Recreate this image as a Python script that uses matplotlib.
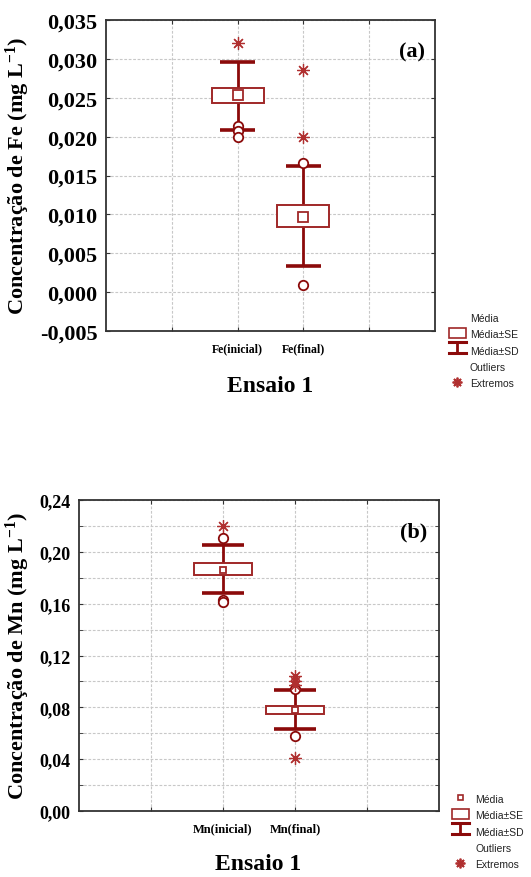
import matplotlib
matplotlib.use("Agg")
import matplotlib.pyplot as plt
from matplotlib.patches import Rectangle
from matplotlib.lines import Line2D
from matplotlib.ticker import MultipleLocator, FuncFormatter

plt.rcParams['mathtext.fontset'] = 'custom'
plt.rcParams['mathtext.rm'] = 'Liberation Serif:bold'
plt.rcParams['mathtext.bf'] = 'Liberation Serif:bold'
plt.rcParams['mathtext.it'] = 'Liberation Serif:bold'

# ---------------- data ----------------
fe_categories = ["Fe(inicial)", "Fe(final)"]
fe_mean = [0.0253, 0.0097]
fe_se_low = [0.0243, 0.0084]
fe_se_high = [0.0262, 0.0112]
fe_sd_low = [0.0208, 0.0033]
fe_sd_high = [0.0296, 0.0162]
fe_outliers = [[0.0214, 0.0207, 0.0199], [0.0166, 0.0009]]
fe_extremes = [[0.0320], [0.0286, 0.0199]]
fe_yticks = [-0.005, 0.000, 0.005, 0.010, 0.015, 0.020, 0.025, 0.030, 0.035]

mn_categories = ["Mn(inicial)", "Mn(final)"]
mn_mean = [0.186, 0.078]
mn_se_low = [0.182, 0.075]
mn_se_high = [0.191, 0.081]
mn_sd_low = [0.168, 0.063]
mn_sd_high = [0.205, 0.093]
mn_outliers = [[0.211, 0.163, 0.161], [0.094, 0.058]]
mn_extremes = [[0.220], [0.104, 0.100, 0.097, 0.041]]
mn_yticks = [0.00, 0.04, 0.08, 0.12, 0.16, 0.20, 0.24]

legend_labels = ["Média", "Média±SE", "Média±SD", "Outliers", "Extremos"]
xlabel_text = "Ensaio 1"

# ---------------- style ----------------
W, H = 531, 878
DPI = 100
C_WHISK = "#8b0a0a"
C_BOX = "#a02828"
C_EXT = "#b03030"
GRID_C = "#c8c8c8"
SERIF = "Liberation Serif"
SANS = "Liberation Sans"

fig = plt.figure(figsize=(W / DPI, H / DPI), dpi=DPI)
fig.patch.set_facecolor("white")


def px_axes(l, t, r, b):
    return fig.add_axes([l / W, (H - b) / H, (r - l) / W, (b - t) / H])


def comma_fmt(nd):
    def f(v, pos):
        s = f"{v:.{nd}f}".replace(".", ",")
        if s.startswith("-") and abs(v) < 1e-12:
            s = s[1:]
        return s
    return FuncFormatter(f)


def draw_panel(ax, cats, mean, sel, seh, sdl, sdh, outl, extr, ylim, major, minor,
               nd, tick_fs, cat_fs, box_w, cap_w, mean_ms, ylab, tag, lab_fs):
    xs = [2, 3]
    ax.set_xlim(0, 5)
    ax.set_ylim(*ylim)
    ax.set_xticks([1, 2, 3, 4])
    ax.set_xticklabels(["", cats[0], cats[1], ""], fontfamily=SERIF,
                       fontweight="bold", fontsize=cat_fs)
    ax.yaxis.set_major_locator(MultipleLocator(major))
    if minor:
        ax.yaxis.set_minor_locator(MultipleLocator(minor))
    ax.yaxis.set_major_formatter(comma_fmt(nd))
    for lab in ax.get_yticklabels():
        lab.set_fontfamily(SERIF)
        lab.set_fontweight("bold")
        lab.set_fontsize(tick_fs)
    ax.grid(True, which="both", color=GRID_C, linestyle=(0, (2.5, 1.5)), linewidth=0.8)
    ax.set_axisbelow(True)
    ax.tick_params(which="both", direction="in", length=3, top=True, right=True,
                   color="#333333", pad=6)
    ax.tick_params(axis="x", pad=8)
    for s in ax.spines.values():
        s.set_color("#333333")
        s.set_linewidth(1.3)

    # whiskers (SD)
    ax.vlines(xs, sdl, sdh, color=C_WHISK, lw=2.0, zorder=3)
    for x, lo, hi in zip(xs, sdl, sdh):
        ax.hlines([lo, hi], x - cap_w / 2, x + cap_w / 2, color=C_WHISK, lw=2.6, zorder=3)
    # SE boxes
    ax.bar(xs, [h - l for h, l in zip(seh, sel)], bottom=sel, width=box_w,
           facecolor="white", edgecolor=C_BOX, linewidth=1.4, zorder=4)
    # mean
    ax.plot(xs, mean, linestyle="none", marker="s", ms=mean_ms, mfc="white",
            mec=C_BOX, mew=1.3, zorder=5)
    # outliers
    for x, vals in zip(xs, outl):
        ax.plot([x] * len(vals), vals, linestyle="none", marker="o", ms=6.8,
                mfc="white", mec=C_WHISK, mew=1.3, zorder=6)
    # extremes
    for x, vals in zip(xs, extr):
        ax.plot([x] * len(vals), vals, linestyle="none", marker=(8, 2, 0), ms=9,
                color=C_EXT, mew=0.9, zorder=6)

    ax.set_ylabel(ylab, fontfamily=SERIF, fontweight="bold", fontsize=lab_fs)
    ax.text(0.93, 0.9, tag, transform=ax.transAxes, ha="center", va="center",
            fontfamily=SERIF, fontweight="bold", fontsize=16)


ax1 = px_axes(106, 21, 435, 332)
draw_panel(ax1, fe_categories, fe_mean, fe_se_low, fe_se_high, fe_sd_low, fe_sd_high,
           fe_outliers, fe_extremes, (fe_yticks[0], fe_yticks[-1]), 0.005, None, 3,
           16, 8.5, 0.79, 0.52, 7, "Concentração de Fe (mg L$^{-1}$)", "(a)", 16)
ax1.yaxis.set_label_coords((32 - 106) / 329, 0.5)

ax2 = px_axes(79, 501, 439, 812)
draw_panel(ax2, mn_categories, mn_mean, mn_se_low, mn_se_high, mn_sd_low, mn_sd_high,
           mn_outliers, mn_extremes, (mn_yticks[0], mn_yticks[-1]), 0.04, 0.02, 2,
           13, 9, 0.8, 0.57, 4, "Concentração de Mn (mg L$^{-1}$)", "(b)", 16)
ax2.yaxis.set_label_coords((32 - 79) / 360, 0.5)

fig.text(270 / W, 1 - 387 / H, xlabel_text, ha="center", va="center",
         fontfamily=SERIF, fontweight="bold", fontsize=17)
fig.text(258 / W, 1 - 865 / H, xlabel_text, ha="center", va="center",
         fontfamily=SERIF, fontweight="bold", fontsize=17)

# ---------------- legends (drawn in an overlay in pixel space) ----------------
ov = fig.add_axes([0, 0, 1, 1], zorder=-1)
ov.set_xlim(0, W)
ov.set_ylim(H, 0)
ov.axis("off")


def draw_legend(tx, ty, sym_x, show_mean, sym_w):
    step = 16.3
    ys = [ty + i * step for i in range(5)]
    for lab, y in zip(legend_labels, ys):
        ov.text(tx, y, lab, ha="left", va="center", fontfamily=SANS, fontsize=7.5,
                color="#222222")
    if show_mean:
        ov.add_patch(Rectangle((sym_x - 2.5, ys[0] - 3.5), 5, 5, fill=False,
                               edgecolor=C_BOX, lw=1.2))
    ov.add_patch(Rectangle((sym_x - sym_w / 2, ys[1] - 6.5), sym_w, 10.5,
                           fill=False, edgecolor=C_BOX, lw=1.2))
    ov.add_line(Line2D([sym_x - sym_w / 2, sym_x + sym_w / 2], [ys[2] - 8.5] * 2,
                       color=C_WHISK, lw=2.2))
    ov.add_line(Line2D([sym_x - sym_w / 2, sym_x + sym_w / 2], [ys[2] + 2.5] * 2,
                       color=C_WHISK, lw=2.2))
    ov.add_line(Line2D([sym_x, sym_x], [ys[2] - 8.5, ys[2] + 2.5],
                       color=C_WHISK, lw=2.0))
    ov.plot([sym_x], [ys[4] - 1], marker=(8, 2, 0), ms=7, color=C_EXT, mew=1.3)


draw_legend(470, 319, 457, False, 17)
draw_legend(475, 800, 460, True, 17)

fig.savefig("out.png", dpi=DPI, facecolor="white")
